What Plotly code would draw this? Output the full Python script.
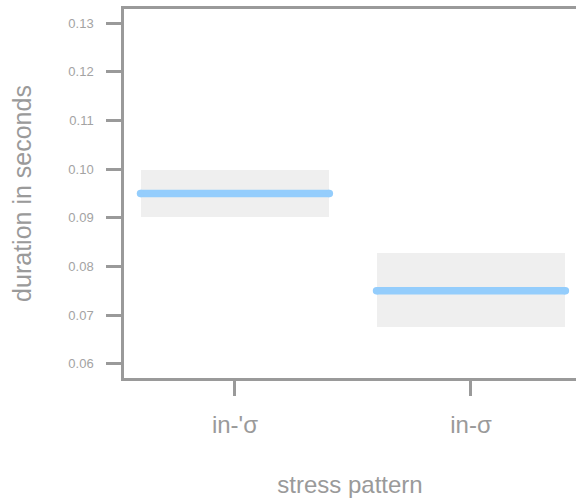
import plotly.graph_objects as go

categories = ["in-'σ", "in-σ"]
means = [0.095, 0.075]
lower = [0.0902, 0.0675]
upper = [0.0998, 0.0827]
half_width = 0.4

y_ticks = [0.06, 0.07, 0.08, 0.09, 0.10, 0.11, 0.12, 0.13]
y_tick_text = ["0.06", "0.07", "0.08", "0.09", "0.10", "0.11", "0.12", "0.13"]

axis_color = "#9a9a9a"
text_color = "#9a9a9a"
tick_text_color = "#a3a3a3"
box_color = "#efefef"
line_color = "#94cdfc"

fig = go.Figure()

# confidence boxes
fig.add_trace(go.Bar(
    x=[0, 1],
    y=[u - l for u, l in zip(upper, lower)],
    base=lower,
    width=2 * half_width,
    marker=dict(color=box_color, line=dict(width=0)),
    hoverinfo="skip",
    showlegend=False,
))

# mean lines
for i, m in enumerate(means):
    fig.add_trace(go.Scatter(
        x=[i - half_width, i + half_width],
        y=[m, m],
        mode="lines+markers",
        line=dict(color=line_color, width=7.5),
        marker=dict(color=line_color, size=7.5, line=dict(width=0)),
        showlegend=False,
        hoverinfo="skip",
    ))

fig.update_layout(
    width=576,
    height=499,
    margin=dict(l=124, r=0, t=9, b=121),
    paper_bgcolor="white",
    plot_bgcolor="white",
    font=dict(family="Liberation Sans, Arial, sans-serif", color=text_color),
    bargap=0,
    xaxis=dict(
        range=[-0.47, 1.445],
        tickmode="array",
        tickvals=[0, 1],
        ticktext=categories,
        tickfont=dict(size=24, color=text_color),
        ticks="outside",
        ticklen=15,
        tickwidth=2.5,
        tickcolor=axis_color,
        ticklabelstandoff=8,
        showline=True,
        linecolor=axis_color,
        linewidth=2.5,
        mirror=True,
        showgrid=False,
        zeroline=False,
        title=dict(text="stress pattern", font=dict(size=24, color=text_color), standoff=40),
    ),
    yaxis=dict(
        range=[0.0571, 0.1329],
        tickmode="array",
        tickvals=y_ticks,
        ticktext=y_tick_text,
        tickfont=dict(size=13, color=tick_text_color),
        ticks="outside",
        ticklen=15,
        tickwidth=2.5,
        tickcolor=axis_color,
        ticklabelstandoff=10,
        showline=True,
        linecolor=axis_color,
        linewidth=2.5,
        showgrid=False,
        zeroline=False,
        title=dict(text="duration in seconds", font=dict(size=25, color=text_color), standoff=30),
    ),
)

fig.write_html("out.html")
